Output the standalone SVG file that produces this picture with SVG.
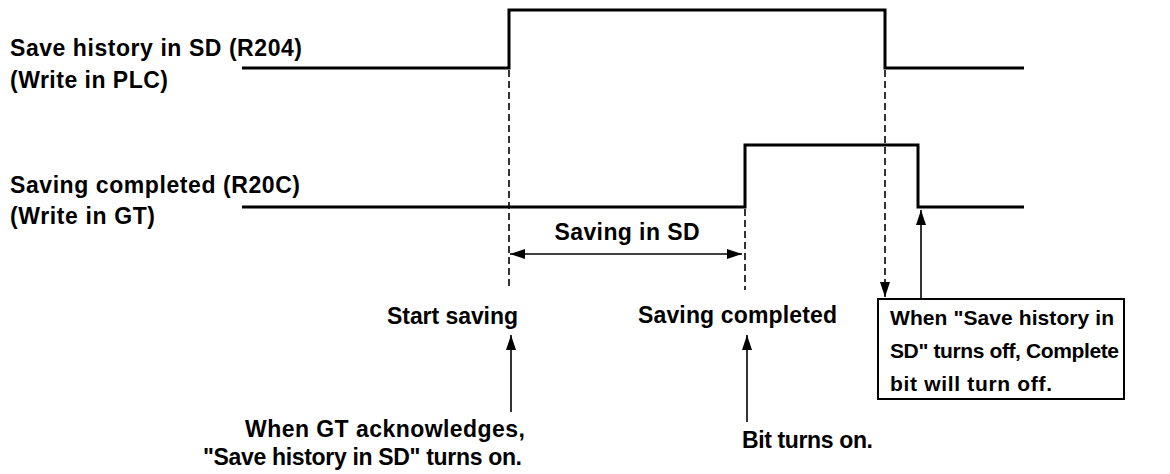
<svg xmlns="http://www.w3.org/2000/svg" width="1170" height="474" viewBox="0 0 1170 474">
<style>
text{font-family:"Liberation Sans",Arial,sans-serif;font-size:23px;font-weight:bold;fill:#000}
.sig{fill:none;stroke:#000;stroke-width:3}
.dash{fill:none;stroke:#000;stroke-width:1.6;stroke-dasharray:7 4}
.ln{fill:none;stroke:#000;stroke-width:1.6}
.note{font-size:21px}
</style>
<defs>
<marker id="ah" markerUnits="userSpaceOnUse" markerWidth="16" markerHeight="12" refX="15" refY="5" orient="auto">
<path d="M0,0 L15,5 L0,10 Z" fill="#000"/>
</marker>
<marker id="ahs" markerUnits="userSpaceOnUse" markerWidth="16" markerHeight="12" refX="15" refY="5" orient="auto-start-reverse">
<path d="M0,0 L15,5 L0,10 Z" fill="#000"/>
</marker>
</defs>
<rect width="1170" height="474" fill="#fff"/>
<g id="labels">
<text x="10" y="56" textLength="292">Save history in SD (R204)</text>
<text x="10" y="88" textLength="158">(Write in PLC)</text>
<text x="10" y="193" textLength="290">Saving completed (R20C)</text>
<text x="10" y="224" textLength="145">(Write in GT)</text>
</g>
<g id="signal-r204"><path class="sig" d="M242,68 H509 V10 H885 V68 H1024"/></g>
<g id="signal-r20c"><path class="sig" d="M242,207 H745 V145 H918 V207 H1024"/></g>
<g id="connectors">
<path class="dash" d="M509,70 V290"/>
<path class="dash" d="M745,209 V290"/>
<path class="dash" d="M885,70 V297" marker-end="url(#ah)"/>
<path class="ln" d="M510,254 H742" marker-start="url(#ahs)" marker-end="url(#ah)"/>
<path class="ln" d="M511,412 V335" marker-end="url(#ah)"/>
<path class="ln" d="M747,422 V335" marker-end="url(#ah)"/>
<path class="ln" d="M921,299 V210" marker-end="url(#ah)"/>
</g>
<g id="saving-in-sd"><text x="627" y="240" text-anchor="middle" textLength="145">Saving in SD</text></g>
<g id="start-saving"><text x="387" y="324" textLength="131">Start saving</text></g>
<g id="saving-completed"><text x="638" y="323" textLength="199">Saving completed</text></g>
<g id="gt-ack">
<text x="245" y="437" textLength="280">When GT acknowledges,</text>
<text x="203" y="465" textLength="319">"Save history in SD" turns on.</text>
</g>
<g id="bit-on"><text x="742" y="448" textLength="131">Bit turns on.</text></g>
<g id="off-note">
<rect x="878" y="299" width="246" height="100" fill="#fff" stroke="#000" stroke-width="2"/>
<text class="note" x="890" y="325" textLength="224">When "Save history in</text>
<text class="note" x="890" y="358" textLength="229">SD" turns off, Complete</text>
<text class="note" x="890" y="391" textLength="162">bit will turn off.</text>
</g>
</svg>
